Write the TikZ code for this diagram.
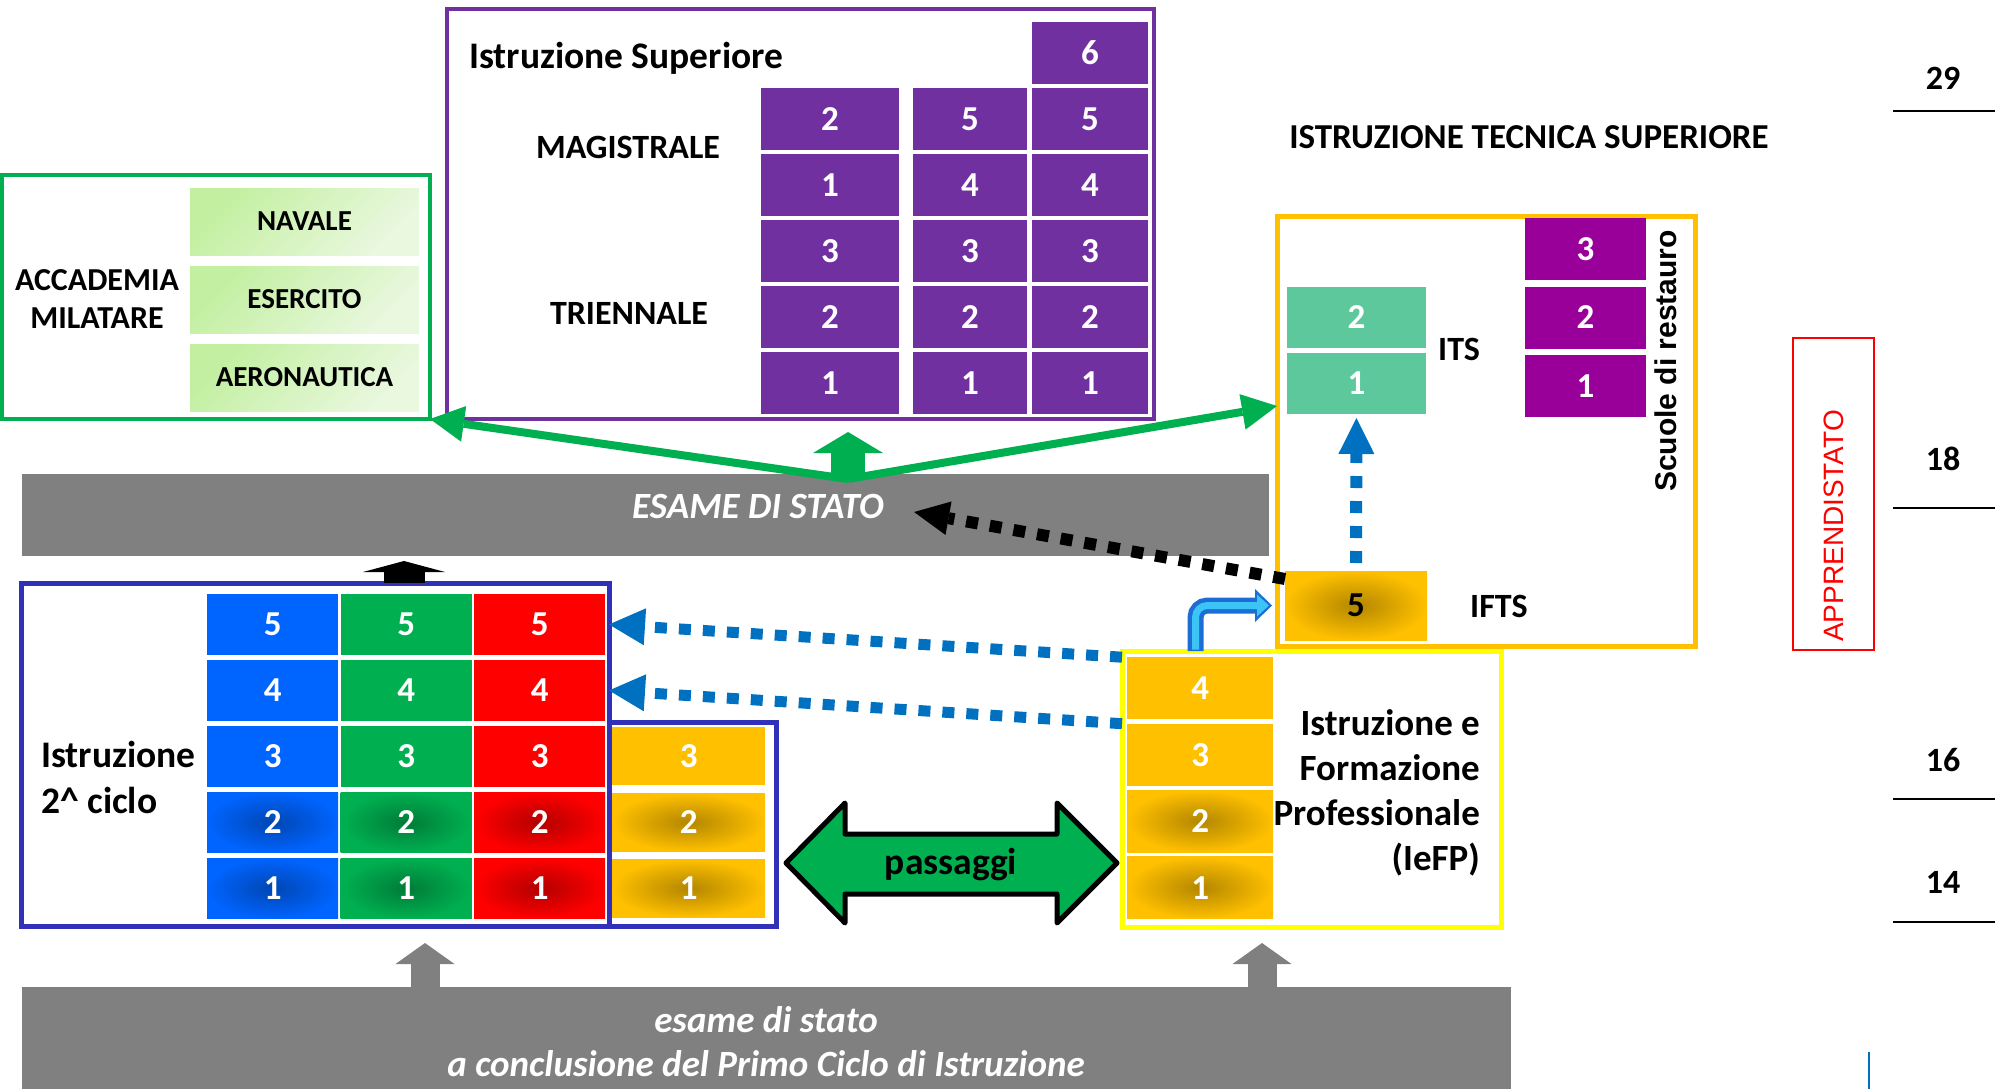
\documentclass[tikz,border=0pt]{standalone}
\usepackage{fontspec}
\setmainfont{Carlito}
\newfontfamily\arialfont{Liberation Sans}
\usetikzlibrary{matrix,positioning,arrows.meta}
\definecolor{viola}{HTML}{7030A0}
\definecolor{prugna}{HTML}{990099}
\definecolor{acqua}{HTML}{5EC89D}
\definecolor{blu}{HTML}{0064FF}
\definecolor{verde}{HTML}{00B050}
\definecolor{rosso}{HTML}{FF0000}
\definecolor{oro}{HTML}{FFC000}
\definecolor{giallo}{HTML}{FFFF00}
\definecolor{grigio}{HTML}{808080}
\definecolor{bordo}{HTML}{3030B8}
\definecolor{freccia}{HTML}{0070C0}
\definecolor{nav1}{HTML}{C2EFA0}
\definecolor{nav2}{HTML}{EAF8E0}
\definecolor{curva1}{HTML}{1C6ED6}
\definecolor{curva2}{HTML}{3CC4F7}

\begin{document}
\begin{tikzpicture}[x=1pt,y=-1pt,
    box/.style={inner sep=0pt,outer sep=0pt},
    cell/.style={inner sep=0pt,outer sep=0pt,text=white,font=\fontsize{35}{35}\selectfont\bfseries},
    glow/.style={inner color=#1!70!black,outer color=#1},
    prato/.style={cell,text=black,font=\fontsize{29}{29}\selectfont\bfseries,top color=nav1,bottom color=nav2,
      shading angle=45,minimum width=229pt,minimum height=67pt},
    lbl/.style={inner sep=0pt,font=\fontsize{#1}{#1}\selectfont\bfseries},
    lbl/.default=34]
    \useasboundingbox (0,0) rectangle (1995,1089);

    \node[box,draw=viola,line width=4.5pt,minimum width=707pt,minimum height=410pt] (sup) at (800.5,214) {};
    \node[box,draw=verde,line width=4.5pt,minimum width=428pt,minimum height=244pt] (acc) at (216,297) {};
    \node[box,draw=oro,line width=5pt,minimum width=418pt,minimum height=430pt] (tecn) at (1486,431) {};
    \node[box,draw=giallo,line width=5pt,minimum width=379pt,minimum height=276pt] (iefp) at (1311.5,789) {};
    \node[box,draw=bordo,line width=5pt,minimum width=588pt,minimum height=343pt] (sec) at (315,754.5) {};
    \node[box,draw=bordo,line width=5pt,minimum width=167pt,minimum height=204pt] (sec2) at (692.5,824) {};
    \node[box,fill=grigio,minimum width=1247pt,minimum height=82pt] (esame) at (645.5,515) {};
    \node[box,fill=grigio,minimum width=1489pt,minimum height=102pt] (base) at (766.5,1038) {};
    \node[box,draw=rosso,line width=2pt,minimum width=81pt,minimum height=312pt] (appr) at (1833.5,494) {};

    \foreach \n [count=\i] in {2,1,3,2,1}
        \node[cell,fill=viola,minimum width=138pt,minimum height=62pt] (sa\i) at (830,{53+66*\i}) {\n};
    \foreach \n [count=\i] in {5,4,3,2,1}
        \node[cell,fill=viola,minimum width=114pt,minimum height=62pt] (sb\i) at (970,{53+66*\i}) {\n};
    \foreach \n [count=\i from 0] in {6,5,4,3,2,1}
        \node[cell,fill=viola,minimum width=116pt,minimum height=62pt] (sc\i) at (1090,{53+66*\i}) {\n};

    \node[prato] (nav) at (304.5,221.5) {NAVALE};
    \node[prato,below=11pt of nav] (ese) {ESERCITO};
    \node[prato,below=11pt of ese] (aer) {AERONAUTICA};

    \matrix (m) [matrix of nodes, anchor=north west, inner sep=0pt, row sep=5.5pt, column sep=2.5pt,
      nodes={cell,minimum width=131pt,minimum height=60.5pt},
      column 1/.style={nodes={fill=blu}}, column 2/.style={nodes={fill=verde}},
      column 3/.style={nodes={fill=rosso}}] at (207,594)
    { 5 & 5 & 5 \\
      4 & 4 & 4 \\
      3 & 3 & 3 \\
      |[glow=blu]| 2 & |[glow=verde]| 2 & |[glow=rosso]| 2 \\
      |[glow=blu]| 1 & |[glow=verde]| 1 & |[glow=rosso]| 1 \\
    };
    \node[cell,fill=oro,minimum width=153pt,minimum height=58pt,right=7pt of m-3-3] (g3) {3};
    \node[cell,glow=oro,minimum width=153pt,minimum height=58pt,right=7pt of m-4-3] (g2) {2};
    \node[cell,glow=oro,minimum width=153pt,minimum height=58pt,right=7pt of m-5-3] (g1) {1};

    \matrix (fp) [matrix of nodes, anchor=north west, inner sep=0pt, row sep=4.5pt,
      nodes={cell,fill=oro,minimum width=146pt,minimum height=62pt}] at (1127,657)
    { 4 \\ 3 \\ |[glow=oro]| 2 \\ |[glow=oro]| 1 \\ };

    \node[cell,fill=acqua,minimum width=139pt,minimum height=61pt] (its2) at (1356.5,317.5) {2};
    \node[cell,fill=acqua,minimum width=139pt,minimum height=61pt,below=5pt of its2] (its1) {1};
    \node[cell,fill=prugna,minimum width=121pt,minimum height=62pt] (rs3) at (1585.5,249) {3};
    \node[cell,fill=prugna,minimum width=121pt,minimum height=62pt,below=6.5pt of rs3] (rs2) {2};
    \node[cell,fill=prugna,minimum width=121pt,minimum height=62pt,below=6.5pt of rs2] (rs1) {1};
    \node[cell,glow=oro,text=black,minimum width=142pt,minimum height=69pt] (ifts) at (1356,605.5) {5};

    \node[lbl=37.5,anchor=base west] (suptxt) at (469,68.5) {Istruzione Superiore};
    \node[lbl,anchor=base] (mag) at (628,159) {MAGISTRALE};
    \node[lbl,anchor=base] (tri) at (629,324) {TRIENNALE};
    \node[inner sep=0pt,align=center,font=\fontsize{32}{38}\selectfont\bfseries] (acctxt) at (97,299) {ACCADEMIA\\MILATARE};
    \node[lbl=35] (tectxt) at (1529,137) {ISTRUZIONE TECNICA SUPERIORE};
    \node[lbl,anchor=west] (itstxt) at (1438,349) {ITS};
    \node[lbl,anchor=west] (iftstxt) at (1470,606) {IFTS};
    \node[inner sep=0pt,rotate=90,font=\arialfont\fontsize{30}{30}\selectfont\bfseries] (resttxt) at (1666,361) {Scuole di restauro};
    \node[inner sep=0pt,rotate=90,text=rosso,font=\arialfont\fontsize{28}{28}\selectfont] (apprtxt) at (1834,526) {APPRENDISTATO};
    \node[inner sep=0pt,anchor=base,text=white,font=\fontsize{37}{37}\selectfont\bfseries\itshape] (esametxt) at (758,518) {ESAME DI STATO};
    \node[inner sep=0pt,anchor=base,text=white,font=\fontsize{37}{37}\selectfont\bfseries\itshape] (base1) at (766,1032) {esame di stato};
    \node[inner sep=0pt,anchor=base,text=white,font=\fontsize{37}{37}\selectfont\bfseries\itshape] (base2) at (766,1076) {a conclusione del Primo Ciclo di Istruzione};
    \node[inner sep=0pt,align=left,anchor=west,font=\fontsize{37.5}{46}\selectfont\bfseries] (sectxt) at (41,777) {Istruzione\\2\textasciicircum{} ciclo};
    \node[inner sep=0pt,align=right,anchor=east,font=\fontsize{37}{45}\selectfont\bfseries] (fptxt) at (1480,793) {Istruzione e\\Formazione\\Professionale\\(IeFP)};

    \foreach \a/\ty/\ly in {29/78/111,18/459/508,16/760/799,14/882/922} {
        \node[lbl] (eta\a) at (1943,\ty) {\a};
        \draw[line width=2.5pt] (1893,\ly) -- (1995,\ly);
    }
    \draw[freccia,line width=2pt] (1869,1052) -- (1869,1089);

    \draw[line width=5pt,fill=verde,line join=round] (786,863) -- (845,803) -- (845,834) -- (1057,834) -- (1057,803)
      -- (1117,863) -- (1057,923) -- (1057,894) -- (845,894) -- (845,923) -- cycle;
    \node[lbl=37.5,anchor=base] (pass) at (951,874) {passaggi};

    \coordinate (esj) at (848,479);
    \coordinate (supin) at (848,432);
    \draw[verde,line width=8pt,-{Triangle[length=34pt,width=36pt,line width=0pt]}] (esj) -- (acc.south east);
    \draw[verde,line width=8pt,-{Triangle[length=35pt,width=36pt,line width=0pt]}] (esj) -- ([yshift=25pt]tecn.west);
    \draw[verde,line width=34pt,-{Triangle[length=21pt,width=70pt,line width=0pt]}] (esj) -- (supin);
    \draw[line width=41pt,-{Triangle[length=11pt,width=82pt,line width=0pt]}] ([xshift=89pt]sec.north) -- ([xshift=89pt,yshift=22pt]sec.north);
    \draw[grigio,line width=29pt,-{Triangle[length=21pt,width=59pt,line width=0pt]}] ([xshift=-341.5pt]base.north) -- ([xshift=-341.5pt,yshift=44pt]base.north);
    \draw[grigio,line width=29pt,-{Triangle[length=21pt,width=59pt,line width=0pt]}] ([xshift=495.5pt]base.north) -- ([xshift=495.5pt,yshift=44pt]base.north);

    \draw[freccia,line width=11pt,dash pattern=on 12pt off 12pt,-{Triangle[length=36pt,width=37pt,line width=0pt]}]
      (iefp.west |- fp-1-1.north) -- (sec.east |- m-1-3);
    \draw[freccia,line width=11pt,dash pattern=on 12pt off 12pt,-{Triangle[length=36pt,width=37pt,line width=0pt]}]
      (iefp.west |- fp-2-1.north) -- (sec.east |- m-2-3);
    \draw[freccia,line width=12pt,dash pattern=on 12pt off 13pt,shorten <=8pt,shorten >=4pt,-{Triangle[length=36pt,width=36pt,line width=0pt]}]
      (ifts.north) -- (its1.south);
    \draw[line width=12pt,dash pattern=on 12pt off 12pt,-{Triangle[length=35pt,width=34pt,line width=0pt]}]
      ([yshift=-8pt]ifts.north west) -- ([xshift=30pt,yshift=-6pt]esametxt.east);

    \draw[curva1,line width=16pt,rounded corners=12pt,-{Triangle[length=17pt,width=33pt,line width=0pt]}]
      ([xshift=-116pt]iefp.north) |- ([xshift=-5pt]tecn.west |- ifts.west);
    \draw[curva2,line width=7pt,rounded corners=12pt,shorten <=1.5pt,shorten >=3pt,-{Triangle[length=12pt,width=22pt,line width=0pt]}]
      ([xshift=-116pt]iefp.north) |- ([xshift=-5pt]tecn.west |- ifts.west);
\end{tikzpicture}
\end{document}
